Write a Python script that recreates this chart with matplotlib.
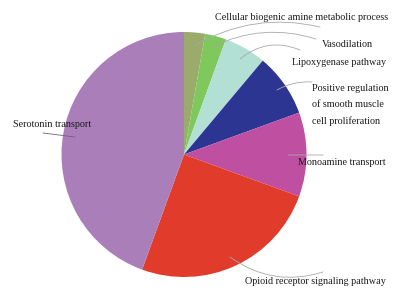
import matplotlib
matplotlib.use("Agg")
import matplotlib.pyplot as plt

# Data (gene counts per GO term)
categories = [
    "Cellular biogenic amine metabolic process",
    "Vasodilation",
    "Lipoxygenase pathway",
    "Positive regulation\nof smooth muscle\ncell proliferation",
    "Monoamine transport",
    "Opioid receptor signaling pathway",
    "Serotonin transport",
]
values = [1, 1, 2, 3, 4, 9, 16]
colors = ["#9bab6c", "#7ec85c", "#b3e0d4", "#2c3591", "#bf4fa0", "#e13b2b", "#aa7fb9"]

W, H = 410, 294
fig = plt.figure(figsize=(W / 100, H / 100), dpi=100)
ax = fig.add_axes([0, 0, 1, 1])
ax.set_xlim(0, W)
ax.set_ylim(0, H)
ax.set_aspect("equal")
ax.axis("off")

ax.pie(values, colors=colors, startangle=90, counterclock=False,
       center=(184, H - 154.5), radius=122.5,
       wedgeprops=dict(linewidth=0))
ax.set_xlim(0, W)
ax.set_ylim(0, H)

font = dict(family="Liberation Serif", size=7.25, color="#1a1a1a")

# label layout (left x, centre y in image pixels)
label_pos = [(215, 18), (322, 45), (292, 63), (312, 105), (298, 163), (245, 281), (13, 125)]
for lab, (x, y) in zip(categories, label_pos):
    ax.text(x, H - y, lab, ha="left", va="center", linespacing=1.95, **font)

# leader lines: (start, end, rad) in image pixels
leaders = [
    ((194, 46), (320, 27), -0.2),
    ((212, 47), (316, 39), -0.2),
    ((240, 59), (300, 50), -0.3),
    ((277, 90), (312, 82), -0.15),
    ((288, 155), (323, 155), 0.0),
    ((230, 257), (323, 272), 0.25),
    ((43, 133), (75, 137), 0.0),
]
line_colors = ["#a8a8a8"] * 6 + ["#7a5a8a"]
for ((x1, y1), (x2, y2), rad), lc in zip(leaders, line_colors):
    ax.annotate("", xy=(x2, H - y2), xytext=(x1, H - y1),
                arrowprops=dict(arrowstyle="-", color=lc, lw=0.6,
                                shrinkA=0, shrinkB=0,
                                connectionstyle=f"arc3,rad={rad}"))

fig.savefig("out.png", dpi=100)
